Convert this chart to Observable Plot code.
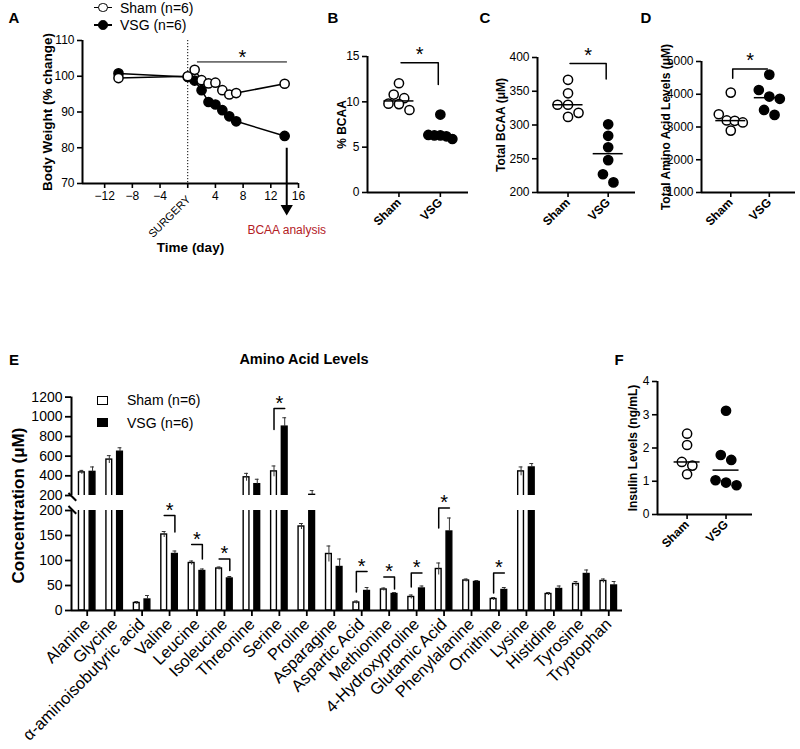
<!DOCTYPE html>
<html><head><meta charset="utf-8">
<script src="https://cdn.jsdelivr.net/npm/d3@7"></script>
<script src="https://cdn.jsdelivr.net/npm/@observablehq/plot@0.6"></script>
<style>
body{margin:0;background:#fff;}
#fig{position:relative;width:800px;height:749px;overflow:hidden;background:#fff;font-family:"Liberation Sans",Arial,Helvetica,sans-serif;}
</style>
</head><body><div id="fig"></div>
<script>
// ---------------- DATA ----------------
const groups = ["Sham", "VSG"];
// Panel A: body weight (% change)
const days = [-10, 0, 1, 2, 3, 4, 5, 6, 7, 14];
const shamBW = [99.5, 100, 101.8, 98.9, 98.0, 98.2, 96.1, 94.9, 95.3, 97.9];
const vsgBW  = [100.8, 99.8, 98.8, 96.1, 92.8, 92.1, 90.5, 88.8, 87.4, 83.3];
const aSigRange = [1.4, 14.4], aSigLevel = 104;
const analysisDay = 14.3, arrowFrom = 80, arrowTo = 63;
// Panel B: % BCAA
const shamB = [12.05, 10.8, 10.4, 9.8, 9.75, 9.1];
const vsgB  = [8.6, 6.35, 6.3, 6.3, 6.2, 5.9];
const bBracket = [14.3, 11.9];
// Panel C: Total BCAA (uM)
const shamC = [367, 347, 330, 330, 318, 312];
const vsgC  = [301, 284, 267, 248, 227, 215];
const cBracket = [391, 368];
// Panel D: Total amino acid levels (uM)
const shamD = [4050, 3390, 3200, 3190, 3140, 2890];
const vsgD  = [4600, 4130, 3930, 3860, 3520, 3370];
const dBracket = [4774, 4486];
// Panel F: insulin (ng/mL)
const shamF = [2.43, 2.09, 1.58, 1.47, 1.21];
const vsgF  = [3.12, 1.79, 1.64, 1.03, 0.96, 0.88];
// Panel E: amino acid levels (mean, SEM)
const aaNames = ["Alanine","Glycine","α-aminoisobutyric acid","Valine","Leucine","Isoleucine","Threonine","Serine","Proline","Asparagine","Aspartic Acid","Methionine","4-Hydroxyproline","Glutamic Acid","Phenylalanine","Ornithine","Lysine","Histidine","Tyrosine","Tryptophan"];
const shamMean = [435, 565, 15, 152, 95, 84, 385, 445, 168, 113, 16, 42, 27, 83, 60, 23, 445, 33, 53, 59];
const shamSEM  = [20, 40, 3, 6, 4, 3, 40, 55, 6, 16, 3, 3, 4, 12, 3, 3, 45, 3, 5, 4];
const vsgMean  = [440, 645, 22, 113, 79, 64, 315, 900, 207, 87, 39, 33, 44, 158, 57, 41, 485, 43, 73, 50];
const vsgSEM   = [50, 40, 8, 6, 4, 4, 50, 90, 43, 16, 7, 3, 5, 27, 3, 5, 40, 6, 8, 8];
const sigNames = ["Valine","Leucine","Isoleucine","Serine","Aspartic Acid","Methionine","4-Hydroxyproline","Glutamic Acid","Ornithine"];
const sigTop   = [190, 132, 103, 1085, 78, 67, 75, 205, 75];
const sigDrop  = [157, 103, 80, 870, 37, 43, 47, 165, 35];

// ---------------- HELPERS ----------------
const FONT = '"Liberation Sans", Arial, Helvetica, sans-serif';
const fig = document.getElementById("fig");
const ST = {background: "transparent", overflow: "visible", fontFamily: FONT, color: "#000"};
const fmt = d3.format("d");
function put(el, left, top) {
  el.style.position = "absolute"; el.style.left = left + "px"; el.style.top = top + "px";
  fig.appendChild(el); return el;
}
function label(text, x, y, o = {}) {
  const d = document.createElement("div");
  d.textContent = text;
  const size = o.size || 14;
  Object.assign(d.style, {position: "absolute", whiteSpace: "nowrap", fontSize: size + "px",
    lineHeight: size + "px", fontWeight: o.weight || "normal", color: o.color || "#000", fontFamily: FONT});
  d.style.left = x + "px"; d.style.top = (y - size / 2) + "px";
  if (o.rotate) { d.style.transformOrigin = "50% 50%"; d.style.transform = `translate(-50%,0) rotate(${o.rotate}deg)`; }
  else if (o.anchor === "middle") d.style.transform = "translateX(-50%)";
  fig.appendChild(d);
}
function box(x, y, w, h, css) {
  const d = document.createElement("div");
  Object.assign(d.style, {position: "absolute", left: x + "px", top: y + "px", width: w + "px", height: h + "px", boxSizing: "border-box"}, css);
  fig.appendChild(d);
}
function swarmOffsets(ys) {
  const n = ys.length, order = d3.range(n).sort((a, b) => ys[a] - ys[b]);
  const off = new Array(n).fill(0);
  let row = [];
  const flush = () => {
    const m = row.length, s = m > 1 ? Math.min(10.5, 24 / (m - 1)) : 0;
    row.forEach((idx, k) => off[idx] = (k - (m - 1) / 2) * s);
    row = [];
  };
  for (const idx of order) { if (row.length && ys[idx] - ys[row[0]] >= 9) flush(); row.push(idx); }
  flush();
  return off;
}

// ---------------- PANEL A ----------------
{
  const sham = days.map((d, i) => ({day: d, bw: shamBW[i]}));
  const vsg = days.map((d, i) => ({day: d, bw: vsgBW[i]}));
  const xdom = [-15.2, 16];
  const p = Plot.plot({
    width: 300, height: 270, marginLeft: 82, marginRight: 2, marginTop: 40, marginBottom: 87,
    x: {domain: xdom}, y: {domain: [70, 110]}, style: ST,
    marks: [
      Plot.ruleX([0], {strokeDasharray: "1.2,1.8", strokeWidth: 1}),
      Plot.ruleY([aSigLevel], {x1: aSigRange[0], x2: aSigRange[1], strokeWidth: 1}),
      Plot.text(["*"], {x: (aSigRange[0] + aSigRange[1]) / 2, y: aSigLevel, dy: -4, fontSize: 20}),
      Plot.link([analysisDay], {x1: d => d, x2: d => d, y1: arrowFrom, y2: arrowTo, strokeWidth: 2}),
      Plot.dot([analysisDay], {x: d => d, y: arrowTo, symbol: "triangle", rotate: 180, r: 3.6, fill: "#000", stroke: "#000"}),
      Plot.text(["BCAA analysis"], {x: analysisDay, y: 56.9, fill: "#b3201f", fontSize: 12}),
      Plot.line(vsg, {x: "day", y: "bw", strokeWidth: 1.5}),
      Plot.line(sham, {x: "day", y: "bw", strokeWidth: 1.5}),
      Plot.dot(vsg, {x: "day", y: "bw", r: 4.6, fill: "#000", stroke: "#000", strokeWidth: 1.5}),
      Plot.dot(sham, {x: "day", y: "bw", r: 4.6, fill: "#fff", stroke: "#000", strokeWidth: 1.5}),
      Plot.ruleX([xdom[0]], {strokeWidth: 2}),
      Plot.ruleY([70], {strokeWidth: 2}),
      Plot.axisX({ticks: [-12, -8, -4, 0, 4, 8, 12, 16], tickFormat: d => d === 0 ? "" : fmt(d), tickSize: 5, tickPadding: 3, fontSize: 12, strokeWidth: 1.6, label: null}),
      Plot.axisY({ticks: [70, 80, 90, 100, 110], tickFormat: fmt, tickSize: 5, tickPadding: 3, fontSize: 12, strokeWidth: 1.6, label: null}),
      Plot.text(["SURGERY"], {x: 0, y: 70, dx: 1, dy: 14, rotate: -45, textAnchor: "end", fontSize: 11}),
      Plot.text(["Time (day)"], {frameAnchor: "bottom", dy: 68, fontWeight: "bold", fontSize: 13.5}),
      Plot.text(["Body Weight (% change)"], {frameAnchor: "left", dx: -35, rotate: -90, textAnchor: "middle", fontWeight: "bold", fontSize: 13.5})
    ]
  });
  put(p, 0, 0);
  // legend
  [[7.5, "#fff", "Sham (n=6)"], [25, "#000", "VSG (n=6)"]].forEach(([y, fill, t]) => {
    box(94, y - 0.75, 18, 1.5, {background: "#000"});
    box(98.2, y - 4.8, 9.6, 9.6, {border: "1.5px solid #000", borderRadius: "50%", background: fill});
    label(t, 120, y, {size: 14});
  });
}

// ---------------- SCATTER PANELS (B, C, D, F) ----------------
function scatterPanel(c) {
  const xdom = [-0.76, 1.68];
  const fw = c.width - c.ml - c.mr, fh = c.height - c.mt - c.mb;
  const pxPerX = fw / (xdom[1] - xdom[0]);
  const ypx = v => (c.ydom[1] - v) / (c.ydom[1] - c.ydom[0]) * fh;
  const pts = [];
  [c.sham, c.vsg].forEach((vals, g) => {
    const offs = swarmOffsets(vals.map(ypx));
    vals.forEach((v, k) => pts.push({g, v, x: g + offs[k] / pxPerX}));
  });
  const meds = [c.sham, c.vsg].map((vals, g) => ({g, m: d3.median(vals)}));
  const half = c.lineW / 2 / pxPerX;
  const marks = [
    Plot.dot(pts.filter(d => d.g === 1), {x: "x", y: "v", r: 4.6, fill: "#000", stroke: "#000", strokeWidth: 1.5}),
    Plot.dot(pts.filter(d => d.g === 0), {x: "x", y: "v", r: 4.6, fill: "#fff", stroke: "#000", strokeWidth: 1.5}),
    Plot.ruleY(meds, {x1: d => d.g - half, x2: d => d.g + half, y: "m", strokeWidth: 1.5}),
    Plot.ruleX([xdom[0]], {strokeWidth: 2}),
    Plot.ruleY([c.ydom[0]], {strokeWidth: 2}),
    Plot.axisY({ticks: c.yticks, tickFormat: fmt, tickSize: 5, tickPadding: 3, fontSize: 12, strokeWidth: 1.6, label: null}),
    Plot.axisX({ticks: [0, 1], tickFormat: i => groups[i], tickRotate: -45, tickSize: 5, tickPadding: 3, fontSize: 12, fontWeight: "bold", strokeWidth: 1.6, label: null}),
    Plot.text([c.ylabel], {frameAnchor: "left", dx: c.ylabelDx, rotate: -90, textAnchor: "middle", fontSize: 12, fontWeight: "bold"})
  ];
  if (c.bracket) {
    const [top, drop] = c.bracket;
    const dropG = meds[0].m < meds[1].m ? 0 : 1;
    const a = 0.05, b = 0.95;
    const path = dropG === 0 ? [[a, drop], [a, top], [b, top]] : [[a, top], [b, top], [b, drop]];
    marks.push(Plot.line(path, {x: d => d[0], y: d => d[1], strokeWidth: 1.5}));
    marks.push(Plot.text(["*"], {x: 0.5, y: top, dy: -8, fontSize: 20}));
  }
  const p = Plot.plot({
    width: c.width, height: c.height, marginLeft: c.ml, marginRight: c.mr, marginTop: c.mt, marginBottom: c.mb,
    x: {domain: xdom}, y: {domain: c.ydom}, style: ST, marks
  });
  put(p, c.left, c.top);
}
scatterPanel({left: 300, top: 0, width: 175, height: 260, ml: 67, mr: 7, mt: 56, mb: 68,
  ydom: [0, 15], yticks: [0, 5, 10, 15], sham: shamB, vsg: vsgB, ylabel: "% BCAA", ylabelDx: -25, bracket: bBracket, lineW: 30});
scatterPanel({left: 475, top: 0, width: 165, height: 260, ml: 62, mr: 5, mt: 57, mb: 68,
  ydom: [200, 400], yticks: [200, 250, 300, 350, 400], sham: shamC, vsg: vsgC, ylabel: "Total BCAA (μM)", ylabelDx: -36, bracket: cBracket, lineW: 30});
scatterPanel({left: 640, top: 0, width: 160, height: 260, ml: 61, mr: 5, mt: 61, mb: 68,
  ydom: [1000, 5000], yticks: [1000, 2000, 3000, 4000, 5000], sham: shamD, vsg: vsgD, ylabel: "Total Amino Acid Levels (μM)", ylabelDx: -35, bracket: dBracket, lineW: 30});
scatterPanel({left: 600, top: 370, width: 200, height: 190, ml: 57, mr: 48, mt: 11, mb: 46,
  ydom: [0, 4], yticks: [0, 1, 2, 3, 4], sham: shamF, vsg: vsgF, ylabel: "Insulin Levels (ng/mL)", ylabelDx: -24, bracket: null, lineW: 26});

// ---------------- PANEL E ----------------
{
  const rows = aaNames.flatMap((name, i) => [
    {i, g: 0, mean: shamMean[i], sem: shamSEM[i]},
    {i, g: 1, mean: vsgMean[i], sem: vsgSEM[i]}
  ]);
  const cx = d => d.i + (d.g ? 0.195 : -0.195);
  const bw = 0.105, cap = 0.07;
  const xdom = [-0.572, 19.5];
  const sig = sigNames.map((n, k) => {
    const i = aaNames.indexOf(n);
    return {i, top: sigTop[k], drop: sigDrop[k], upper: Math.max(shamMean[i], vsgMean[i]) > 200, dropG: shamMean[i] < vsgMean[i] ? 0 : 1};
  });
  const bracketPts = sig.flatMap(s => {
    const a = s.i - 0.195, b = s.i + 0.195;
    return (s.dropG === 0 ? [[a, s.drop], [a, s.top], [b, s.top]] : [[a, s.top], [b, s.top], [b, s.drop]])
      .map(([x, y]) => ({s, x, y}));
  });
  const barMarks = (list, y1, y2f) => [
    Plot.rect(list.filter(d => d.g === 0), {x1: d => cx(d) - bw, x2: d => cx(d) + bw, y1, y2: y2f, fill: "#fff", stroke: "#000", strokeWidth: 1.4, clip: true}),
    Plot.rect(list.filter(d => d.g === 1), {x1: d => cx(d) - bw, x2: d => cx(d) + bw, y1, y2: y2f, fill: "#000", stroke: "#000", strokeWidth: 1.4, clip: true})
  ];
  const errMarks = (list) => [
    Plot.ruleX(list, {x: cx, y1: d => d.g ? d.mean : d.mean - d.sem, y2: d => d.mean + d.sem, stroke: "#333", strokeWidth: 1, clip: true}),
    Plot.ruleY(list, {x1: d => cx(d) - cap, x2: d => cx(d) + cap, y: d => d.mean + d.sem, stroke: "#333", strokeWidth: 1, clip: true})
  ];
  // upper segment (200-1200)
  const upRows = rows.filter(d => d.mean > 200);
  const up = Plot.plot({
    width: 630, height: 120, marginLeft: 71, marginRight: 8, marginTop: 16.6, marginBottom: 5,
    x: {domain: xdom, axis: null}, y: {domain: [200, 1200]}, style: ST,
    marks: [
      ...barMarks(upRows, 100, d => d.mean),
      ...errMarks(upRows),
      Plot.line(bracketPts.filter(p => p.s.upper), {x: "x", y: "y", z: p => p.s.i, strokeWidth: 1.5}),
      Plot.text(sig.filter(s => s.upper), {x: "i", y: "top", text: () => "*", dy: -5, fontSize: 20}),
      Plot.ruleX([xdom[0]], {strokeWidth: 2}),
      Plot.axisY({ticks: [200, 400, 600, 800, 1000, 1200], tickFormat: fmt, tickSize: 6, tickPadding: 3, fontSize: 14, strokeWidth: 1.8, label: null})
    ]
  });
  put(up, 0, 380);
  // lower segment (0-200)
  const lowRows = rows.filter(d => d.mean < 200);
  const low = Plot.plot({
    width: 630, height: 249, marginLeft: 71, marginRight: 8, marginTop: 10, marginBottom: 139,
    x: {domain: xdom}, y: {domain: [0, 200]}, style: ST,
    marks: [
      ...barMarks(rows, 0, d => Math.min(d.mean, 260)),
      ...errMarks(lowRows),
      Plot.line(bracketPts.filter(p => !p.s.upper), {x: "x", y: "y", z: p => p.s.i, strokeWidth: 1.5}),
      Plot.text(sig.filter(s => !s.upper), {x: "i", y: "top", text: () => "*", dy: -5, fontSize: 20}),
      Plot.ruleX([xdom[0]], {strokeWidth: 2}),
      Plot.ruleY([0], {strokeWidth: 2}),
      Plot.axisY({ticks: [0, 50, 100, 150, 200], tickFormat: fmt, tickSize: 6, tickPadding: 3, fontSize: 14, strokeWidth: 1.8, label: null}),
      Plot.axisX({ticks: d3.range(aaNames.length), tickFormat: i => aaNames[i], tickRotate: -45, tickSize: 6, tickPadding: 5, fontSize: 16.5, strokeWidth: 1.8, label: null})
    ]
  });
  put(low, 0, 500);
  // axis break marks
  [496, 509].forEach(y => box(67, y, 11, 1.6, {background: "#000", transform: "rotate(45deg)", transformOrigin: "50% 50%"}));
  // title, legend, y label
  label("Amino Acid Levels", 304, 359, {size: 14.5, weight: "bold", anchor: "middle"});
  box(97, 396, 11, 9, {border: "1.5px solid #000", background: "#fff"});
  label("Sham (n=6)", 127, 400, {size: 14});
  box(97, 418, 11, 9, {background: "#000"});
  label("VSG (n=6)", 127, 422.5, {size: 14});
  label("Concentration (μM)", 18, 505, {size: 17, weight: "bold", rotate: -90});
}

// ---------------- PANEL LETTERS ----------------
[["A", 14, 17], ["B", 333, 17], ["C", 485, 17], ["D", 646, 17], ["E", 14, 359], ["F", 619, 359]]
  .forEach(([t, x, y]) => label(t, x, y, {size: 15, weight: "bold", anchor: "middle"}));
</script>
</body></html>
